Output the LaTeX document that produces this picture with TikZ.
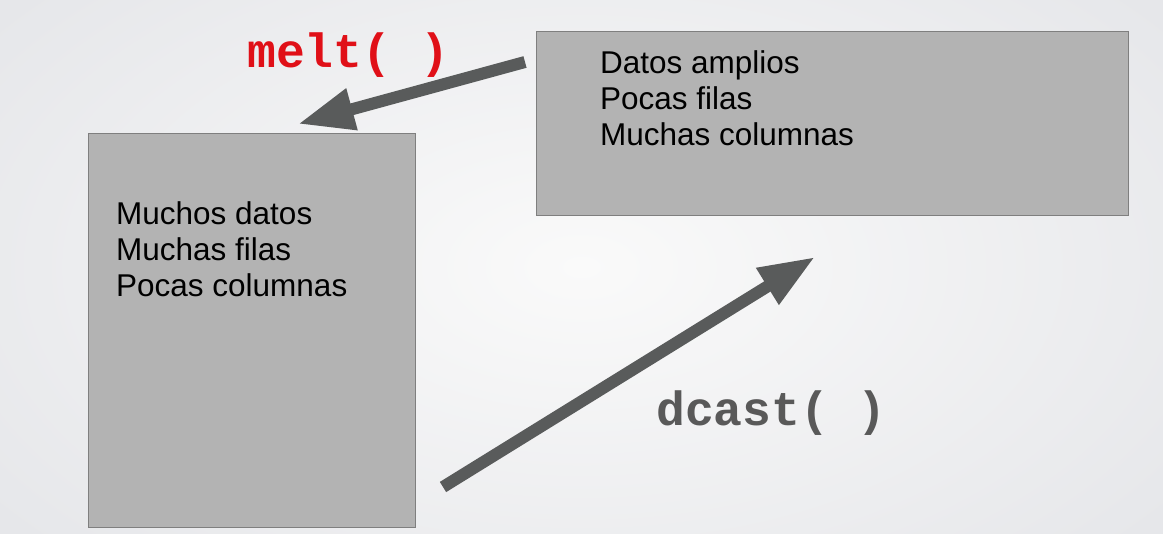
\documentclass[tikz,border=0pt]{standalone}
\usepackage{fontspec}
\setmainfont{Liberation Sans}
\newfontfamily\codefont{Liberation Mono}
\usetikzlibrary{arrows.meta}
\definecolor{boxfill}{HTML}{B3B3B3}
\definecolor{boxline}{HTML}{7F7F7F}
\definecolor{arrowgray}{HTML}{595B5B}
\definecolor{meltred}{HTML}{E01018}
\definecolor{castgray}{HTML}{595959}
\definecolor{bgouter}{HTML}{E6E7EA}
\definecolor{bginner}{HTML}{FAFAFA}
\begin{document}
\begin{tikzpicture}[x=1pt,y=-1pt,
  databox/.style={draw=boxline, line width=1pt, fill=boxfill, inner sep=0pt, rectangle},
  body/.style={anchor=base west, inner sep=0pt, align=left, font=\fontsize{31.5}{36}\selectfont},
  code/.style={anchor=base west, inner sep=0pt, font=\codefont\bfseries\fontsize{48}{48}\selectfont},
  bigarrow/.style={draw=arrowgray, line width=12pt, -{Triangle[length=56pt,width=40pt,fill=arrowgray]}}]
\useasboundingbox (0,0) rectangle (1163,534);
\shade[inner color=bginner, outer color=bgouter] (-150,-150) rectangle (1313,684);
% boxes
\node[databox, minimum width=327pt, minimum height=394pt] (long) at (251.5,331) {};
\node[databox, minimum width=592pt, minimum height=184pt] (wide) at (832,124) {};
% texts (base anchor = baseline of last line)
\node[body] (longtxt) at (116,297) {Muchos datos\\Muchas filas\\Pocas columnas};
\node[body] (widetxt) at (600,146) {Datos amplios\\Pocas filas\\Muchas columnas};
\node[code, text=meltred] (melt) at (247,68) {melt(~)};
\node[code, text=castgray] (dcast) at (656,426) {dcast(~)};
% arrows
\coordinate (meltfrom) at (525,62);
\coordinate (meltto) at (298,124);
\coordinate (castfrom) at (443,487);
\coordinate (castto) at (815,257);
\draw[bigarrow] (meltfrom) -- (meltto);
\draw[bigarrow] (castfrom) -- (castto);
\end{tikzpicture}
\end{document}
